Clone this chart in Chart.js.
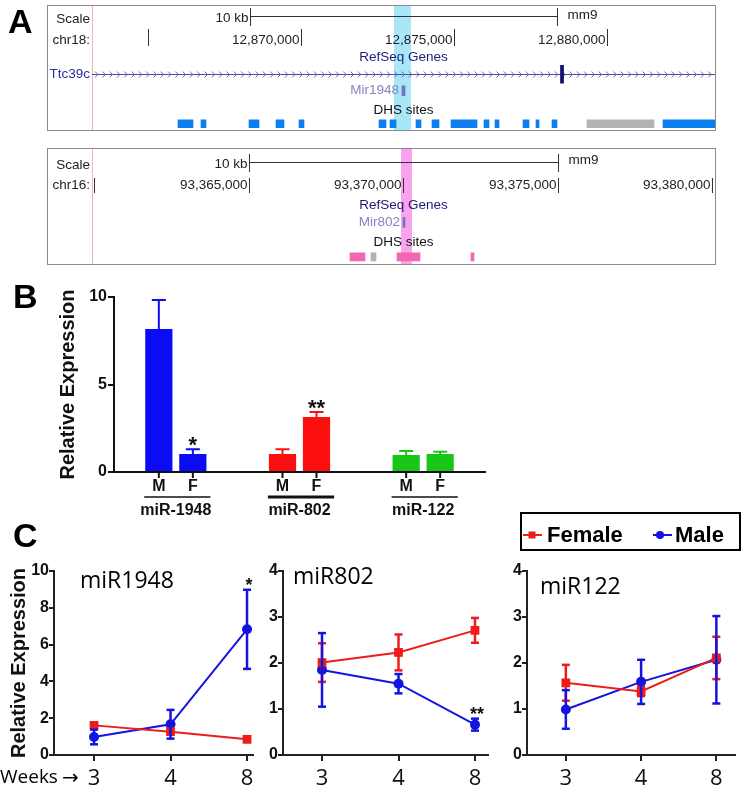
<!DOCTYPE html>
<html><head><meta charset="utf-8">
<script src="https://cdn.jsdelivr.net/npm/chart.js@4.4.0/dist/chart.umd.min.js"></script>
<style>
html,body{margin:0;padding:0;background:#fff;}
body{width:741px;height:788px;position:relative;overflow:hidden;}
canvas{position:absolute;}
</style></head><body>
<canvas id="a1" width="741" height="140" style="left:0;top:0"></canvas>
<canvas id="a2" width="741" height="130" style="left:0;top:140px"></canvas>
<canvas id="b" width="490" height="250" style="left:0;top:275px"></canvas>
<canvas id="c1" width="262" height="288" style="left:0;top:500px"></canvas>
<canvas id="c2" width="250" height="288" style="left:250px;top:500px"></canvas>
<canvas id="c3" width="251" height="288" style="left:490px;top:500px"></canvas>
<script>
// ---------------- DATA ----------------
// Panel A (mm9 genomic coordinates)
const chr18Window = [12863170, 12883529];
const chr18DhsBlue = [[12865980,12866471],[12866732,12866895],[12868301,12868627],[12869183,12869444],[12869935,12870098],[12872549,12872778],[12872908,12873105],[12873758,12873922],[12874281,12874510],[12874902,12875752],[12875980,12876144],[12876340,12876471],[12877255,12877451],[12877680,12877778],[12878203,12878366],[12881830,12883529]];
const chr18DhsGray = [[12879346,12881536]];
const chr18Highlight = [12873040, 12873595];
const mir1948Locus = [12873300, 12873400];
const ttc39cExon = [12878480, 12878580];

const chr16Window = [93359935, 93380097];
const chr16DhsPink = [[93368285,93368770],[93369806,93370550],[93372200,93372298]];
const chr16DhsGray = [[93368964,93369126]];
const chr16Highlight = [93369935, 93370291];
const mir802Locus = [93370000, 93370065];

// Panel B
const barGroups = ['miR-1948', 'miR-802', 'miR-122'];
const barSexes = ['M', 'F'];
const barMale = [8.17, 1.03, 0.97];
const barMaleErr = [1.66, 0.27, 0.23];
const barFemale = [1.03, 3.14, 1.03];
const barFemaleErr = [0.27, 0.29, 0.13];
const barMaleSig = ['', '', ''];
const barFemaleSig = ['*', '**', ''];

// Panel C
const weeks = ['3', '4', '8'];
const mir1948Female = [1.61, 1.27, 0.85];
const mir1948FemaleErr = [0.1, 0.12, 0.08];
const mir1948Male = [0.98, 1.67, 6.83];
const mir1948MaleErr = [0.4, 0.78, 2.15];
const mir1948MaleSig = ['', '', '*'];
const mir802Female = [2.01, 2.23, 2.71];
const mir802FemaleErr = [0.42, 0.39, 0.27];
const mir802Male = [1.85, 1.55, 0.66];
const mir802MaleErr = [0.8, 0.21, 0.13];
const mir802MaleSig = ['', '', '**'];
const mir122Female = [1.57, 1.38, 2.11];
const mir122FemaleErr = [0.39, 0.1, 0.46];
const mir122Male = [0.99, 1.59, 2.07];
const mir122MaleErr = [0.42, 0.48, 0.95];

// ---------------- STYLE ----------------
const FONT = '"Liberation Sans", Arial, sans-serif';
const OPEN = '"Open Sans", "Liberation Sans", sans-serif';
const BLUE = '#1414e0', RED = '#ee1c1c';
const barColors = ['#0b0bf5', '#fb0f0f', '#17c617'];
Chart.defaults.font.family = FONT;
Chart.defaults.color = '#111';
Chart.defaults.animation = false;
Chart.defaults.responsive = false;
Chart.defaults.plugins.legend.display = false;
Chart.defaults.plugins.tooltip.enabled = false;

function hline(ctx, x0, x1, y) { ctx.beginPath(); ctx.moveTo(x0, y); ctx.lineTo(x1, y); ctx.stroke(); }
function vline(ctx, x, y0, y1) { ctx.beginPath(); ctx.moveTo(x, y0); ctx.lineTo(x, y1); ctx.stroke(); }

// ---------------- PANEL A ----------------
function trackChart(id, t) {
  const rows = t.rows;
  const ds = [];
  t.blocks.forEach(b => ds.push({data: b.data.map(r => ({x: r, y: 'dhs'})), backgroundColor: b.color,
    barThickness: 8, grouped: false, borderWidth: 0}));
  ds.push({data: [{x: t.mir, y: 'mir'}], backgroundColor: '#7474ba', barThickness: 10, grouped: false, borderWidth: 0});
  if (t.exon) ds.push({data: [{x: t.exon, y: 'gene'}], backgroundColor: '#10106e', barThickness: 18, grouped: false, borderWidth: 0});
  return new Chart(document.getElementById(id), {
    type: 'bar',
    data: {labels: rows, datasets: ds},
    options: {
      indexAxis: 'y',
      layout: {padding: t.pad},
      scales: {
        x: {type: 'linear', min: t.win[0], max: t.win[1], display: false},
        y: {type: 'category', display: false}
      }
    },
    plugins: [{
      id: 'track',
      beforeDatasetsDraw(chart) {
        const {ctx, chartArea: a, scales: {x, y}} = chart;
        const X = v => x.getPixelForValue(v);
        const R = n => y.getPixelForValue(rows.indexOf(n));
        const b = t.box, h = t.hdr;
        ctx.save();
        ctx.fillStyle = t.hlColor;
        ctx.fillRect(X(t.hl[0]), b[1], X(t.hl[1]) - X(t.hl[0]), b[3] - b[1]);
        ctx.strokeStyle = '#f2b3b3'; ctx.lineWidth = 1;
        vline(ctx, Math.round(a.left) + 0.5, b[1], b[3]);
        ctx.strokeStyle = '#8a8a8a';
        ctx.strokeRect(b[0] + 0.5, b[1] + 0.5, b[2] - b[0], b[3] - b[1]);
        // scale row
        ctx.font = '13.5px ' + FONT; ctx.fillStyle = '#222'; ctx.textBaseline = 'middle';
        ctx.textAlign = 'right';
        ctx.fillText('Scale', a.left - 2, h.scaleText);
        const mid = (x.min + x.max) / 2;
        const s0 = Math.round(X(mid - 5000)) + 0.5, s1 = Math.round(X(mid + 5000)) + 0.5;
        ctx.fillText('10 kb', s0 - 2, h.scaleText - 1);
        ctx.strokeStyle = '#333';
        hline(ctx, s0, s1, h.bar + 0.5);
        vline(ctx, s0, h.bar - 8, h.bar + 10);
        vline(ctx, s1, h.bar - 8, h.bar + 10);
        ctx.textAlign = 'left';
        ctx.fillText('mm9', s1 + 10, h.mm9);
        // chromosome row
        ctx.textAlign = 'right';
        ctx.fillText(t.chrom + ':', a.left - 2, h.chr);
        const lblLeft = a.left + 4;
        for (let g = Math.ceil(x.min / 5000) * 5000; g <= x.max; g += 5000) {
          const px = Math.round(X(g)) + 0.5;
          vline(ctx, px, h.t0, h.t1);
          const lab = g.toLocaleString('en-US');
          if (px - 2 - ctx.measureText(lab).width > lblLeft) ctx.fillText(lab, px - 2, h.chr);
        }
        // track labels
        ctx.textAlign = 'center'; ctx.fillStyle = '#1b1b78';
        ctx.fillText('RefSeq Genes', (a.left + a.right) / 2, R('ref'));
        if (t.gene) {
          const gy = Math.round(R('gene')) + 0.5;
          ctx.strokeStyle = '#4a4aa0'; ctx.lineWidth = 1;
          hline(ctx, a.left, a.right, gy);
          ctx.strokeStyle = '#6a6ab5';
          for (let cx = a.left + 5; cx < a.right; cx += 7.3) {
            ctx.beginPath(); ctx.moveTo(cx - 2, gy - 3); ctx.lineTo(cx + 1, gy); ctx.lineTo(cx - 2, gy + 3); ctx.stroke();
          }
          ctx.textAlign = 'right'; ctx.fillStyle = '#2e2e9c';
          ctx.fillText(t.gene, a.left - 2, gy);
        }
        ctx.textAlign = 'right'; ctx.fillStyle = '#8484c4';
        ctx.fillText(t.mirName, X(t.mir[0]) - 3, R('mir'));
        ctx.textAlign = 'center'; ctx.fillStyle = '#111';
        ctx.fillText('DHS sites', (a.left + a.right) / 2, R('dhsLabel') + 3);
        if (t.panel) {
          ctx.font = 'bold 34px ' + FONT; ctx.textAlign = 'left'; ctx.textBaseline = 'alphabetic';
          ctx.fillStyle = '#000';
          ctx.fillText(t.panel, 8, 33);
        }
        ctx.restore();
      }
    }]
  });
}

trackChart('a1', {
  rows: ['ref', 'gene', 'mir', 'dhsLabel', 'dhs'],
  win: chr18Window, chrom: 'chr18', gene: 'Ttc39c', exon: ttc39cExon,
  mir: mir1948Locus, mirName: 'Mir1948', hl: chr18Highlight, hlColor: '#a9e6f8',
  blocks: [{data: chr18DhsBlue, color: '#0c7ff0'}, {data: chr18DhsGray, color: '#b3b3b3'}],
  pad: {left: 92, right: 26, top: 49.5, bottom: 8},
  box: [47, 5, 715, 130],
  hdr: {scaleText: 19, bar: 16, mm9: 15, chr: 40, t0: 29, t1: 46},
  panel: 'A'
});
trackChart('a2', {
  rows: ['ref', 'mir', 'dhsLabel', 'dhs'],
  win: chr16Window, chrom: 'chr16',
  mir: mir802Locus, mirName: 'Mir802', hl: chr16Highlight, hlColor: '#f9a3ee',
  blocks: [{data: chr16DhsPink, color: '#f465b4'}, {data: chr16DhsGray, color: '#b3b3b3'}],
  pad: {left: 92, right: 26, top: 56.4, bottom: 4.4},
  box: [47, 8, 715, 124],
  hdr: {scaleText: 25, bar: 22, mm9: 20, chr: 45, t0: 38, t1: 53}
});

// ---------------- PANEL B ----------------
const barErrs = [barMaleErr, barFemaleErr];
const barSigs = [barMaleSig, barFemaleSig];
const underlineW = [1.5, 3, 1.5];
new Chart(document.getElementById('b'), {
  type: 'bar',
  data: {labels: barGroups, datasets: [
    {label: barSexes[0], data: barMale, backgroundColor: barColors, categoryPercentage: 0.55, barPercentage: 0.8},
    {label: barSexes[1], data: barFemale, backgroundColor: barColors, categoryPercentage: 0.55, barPercentage: 0.8}
  ]},
  options: {
    layout: {padding: {left: 0, right: 5, top: 22, bottom: 0}},
    scales: {
      x: {grid: {display: false}, ticks: {display: false}, border: {display: true, color: '#111', width: 2},
          afterFit: s => { s.height = 53; }},
      y: {min: 0, max: 10, ticks: {stepSize: 5, font: {size: 16, weight: 'bold'}, color: '#111', padding: 1},
          grid: {drawOnChartArea: false, drawTicks: true, tickLength: 6, color: '#111', lineWidth: 2},
          border: {display: true, color: '#111', width: 2},
          title: {display: true, text: 'Relative Expression', font: {size: 20, weight: 'bold'}, color: '#111', padding: {top: 56, bottom: 0}},
          afterFit: s => { s.width = 114; }}
    }
  },
  plugins: [{
    id: 'bextras',
    afterDatasetsDraw(chart) {
      const {ctx, chartArea: a, scales: {y}} = chart;
      ctx.save();
      chart.data.datasets.forEach((ds, d) => {
        chart.getDatasetMeta(d).data.forEach((el, i) => {
          const v = ds.data[i], e = barErrs[d][i];
          const y0 = y.getPixelForValue(v), y1 = y.getPixelForValue(v + e);
          ctx.strokeStyle = barColors[i]; ctx.lineWidth = 2;
          vline(ctx, el.x, y0, y1);
          hline(ctx, el.x - 7, el.x + 7, y1);
          if (barSigs[d][i]) {
            ctx.fillStyle = '#111'; ctx.font = 'bold 22px ' + FONT; ctx.textAlign = 'center'; ctx.textBaseline = 'alphabetic';
            ctx.fillText(barSigs[d][i], el.x, y1 + 3);
          }
          ctx.strokeStyle = '#111'; ctx.lineWidth = 2;
          vline(ctx, el.x, a.bottom, a.bottom + 6);
          ctx.fillStyle = '#111'; ctx.font = 'bold 16px ' + FONT; ctx.textAlign = 'center'; ctx.textBaseline = 'middle';
          ctx.fillText(ds.label, el.x, a.bottom + 15);
        });
      });
      const mM = chart.getDatasetMeta(0).data, mF = chart.getDatasetMeta(1).data;
      barGroups.forEach((g, i) => {
        const x0 = mM[i].x - mM[i].width / 2 - 1, x1 = mF[i].x + mF[i].width / 2 + 4;
        ctx.strokeStyle = '#111'; ctx.lineWidth = underlineW[i];
        hline(ctx, x0, x1, a.bottom + 25);
        ctx.fillStyle = '#111'; ctx.font = 'bold 16px ' + FONT; ctx.textAlign = 'center'; ctx.textBaseline = 'middle';
        ctx.fillText(g, (mM[i].x + mF[i].x) / 2, a.bottom + 39);
      });
      ctx.font = 'bold 34px ' + FONT; ctx.textAlign = 'left'; ctx.textBaseline = 'alphabetic'; ctx.fillStyle = '#000';
      ctx.fillText('B', 13, 33);
      ctx.restore();
    }
  }]
});

// ---------------- PANEL C ----------------
function lineChart(id, c, L) {
  const errs = [c.femaleErr, c.maleErr];
  const sigs = [c.femaleSig || [], c.maleSig || []];
  return new Chart(document.getElementById(id), {
    type: 'line',
    data: {datasets: [
      {label: 'Female', data: c.female.map((v, i) => ({x: i, y: v})), borderColor: RED, backgroundColor: RED,
       pointStyle: 'rect', pointRadius: 6.2, pointBorderWidth: 0, borderWidth: 2, tension: 0},
      {label: 'Male', data: c.male.map((v, i) => ({x: i, y: v})), borderColor: BLUE, backgroundColor: BLUE,
       pointStyle: 'circle', pointRadius: 5, pointBorderWidth: 0, borderWidth: 2, tension: 0}
    ]},
    options: {
      layout: {padding: {left: 0, right: L.padRight, top: 71, bottom: 0}},
      scales: {
        x: {type: 'linear', min: L.xMin, max: L.xMax,
            afterBuildTicks: s => { s.ticks = weeks.map((w, i) => ({value: i})); },
            ticks: {callback: v => weeks[v], font: {family: OPEN, size: 22}, color: '#111', padding: 5, maxRotation: 0, autoSkip: false},
            grid: {drawOnChartArea: false, drawTicks: true, tickLength: 6, color: '#222', lineWidth: 2},
            border: {display: true, color: '#222', width: 2},
            afterFit: s => { s.height = 33; }},
        y: {min: 0, max: c.yMax,
            ticks: {stepSize: c.step, font: {size: 16, weight: 'bold'}, color: '#111', padding: 0},
            grid: {drawOnChartArea: false, drawTicks: true, tickLength: 5, color: '#222', lineWidth: 2},
            border: {display: true, color: '#222', width: 2},
            title: {display: !!c.yTitle, text: 'Relative Expression', font: {size: 20, weight: 'bold'}, color: '#111', padding: {top: 7, bottom: 0}},
            afterFit: s => { s.width = L.yW; }}
      }
    },
    plugins: [{
      id: 'cextras',
      afterDatasetsDraw(chart) {
        const {ctx, chartArea: a, scales: {y}} = chart;
        ctx.save();
        chart.data.datasets.forEach((ds, d) => {
          chart.getDatasetMeta(d).data.forEach((el, i) => {
            const v = ds.data[i].y, e = errs[d][i];
            const yt = y.getPixelForValue(v + e), yb = y.getPixelForValue(v - e);
            ctx.strokeStyle = ds.borderColor; ctx.lineWidth = 2.5;
            vline(ctx, el.x, yt, yb);
            hline(ctx, el.x - 4, el.x + 4, yt);
            hline(ctx, el.x - 4, el.x + 4, yb);
            if (sigs[d][i]) {
              ctx.fillStyle = '#111'; ctx.font = 'bold 18px ' + FONT; ctx.textAlign = 'center'; ctx.textBaseline = 'alphabetic';
              ctx.fillText(sigs[d][i], el.x + 2, yt + 1);
            }
          });
        });
        ctx.fillStyle = '#000'; ctx.font = '23px ' + OPEN; ctx.textAlign = 'left'; ctx.textBaseline = 'middle';
        ctx.fillText(c.title, a.left + L.titleDx, a.top + L.titleDy);
        if (c.weeksLabel) {
          ctx.font = '19px ' + OPEN; ctx.textBaseline = 'middle';
          ctx.fillText('Weeks', 0, 278);
          ctx.font = '20px "DejaVu Sans", sans-serif';
          ctx.fillText('\u2192', 62, 279);
          ctx.font = 'bold 34px ' + FONT; ctx.textBaseline = 'alphabetic';
          ctx.fillText('C', 13, 47);
        }
        if (c.legend) {
          ctx.strokeStyle = '#000'; ctx.lineWidth = 2;
          ctx.strokeRect(31, 13, 219, 37);
          const pos = [{l0: 33, l1: 52, m: 42, t: 57}, {l0: 163, l1: 182, m: 170, t: 185}];
          chart.data.datasets.forEach((ds, d) => {
            const p = pos[d], ly = 35;
            ctx.strokeStyle = ds.borderColor; ctx.lineWidth = 2;
            hline(ctx, p.l0, p.l1, ly);
            ctx.fillStyle = ds.backgroundColor;
            if (ds.pointStyle === 'rect') ctx.fillRect(p.m - 3.5, ly - 3.5, 7, 7);
            else { ctx.beginPath(); ctx.arc(p.m, ly, 4, 0, Math.PI * 2); ctx.fill(); }
            ctx.fillStyle = '#000'; ctx.font = 'bold 22px ' + FONT; ctx.textAlign = 'left'; ctx.textBaseline = 'middle';
            ctx.fillText(ds.label, p.t, ly + 1);
          });
        }
        ctx.restore();
      }
    }]
  });
}

lineChart('c1', {title: 'miR1948', female: mir1948Female, femaleErr: mir1948FemaleErr, male: mir1948Male, maleErr: mir1948MaleErr,
  maleSig: mir1948MaleSig, yMax: 10, step: 2, yTitle: true, weeksLabel: true},
  {yW: 54, padRight: 9, xMin: -0.523, xMax: 2.078, titleDx: 26, titleDy: 10});
lineChart('c2', {title: 'miR802', female: mir802Female, femaleErr: mir802FemaleErr, male: mir802Male, maleErr: mir802MaleErr,
  maleSig: mir802MaleSig, yMax: 4, step: 1},
  {yW: 33, padRight: 12, xMin: -0.51, xMax: 2.17, titleDx: 10, titleDy: 6});
lineChart('c3', {title: 'miR122', female: mir122Female, femaleErr: mir122FemaleErr, male: mir122Male, maleErr: mir122MaleErr,
  yMax: 4, step: 1, legend: true},
  {yW: 37, padRight: 0, xMin: -0.516, xMax: 2.245, titleDx: 13, titleDy: 16});
</script>
</body></html>
